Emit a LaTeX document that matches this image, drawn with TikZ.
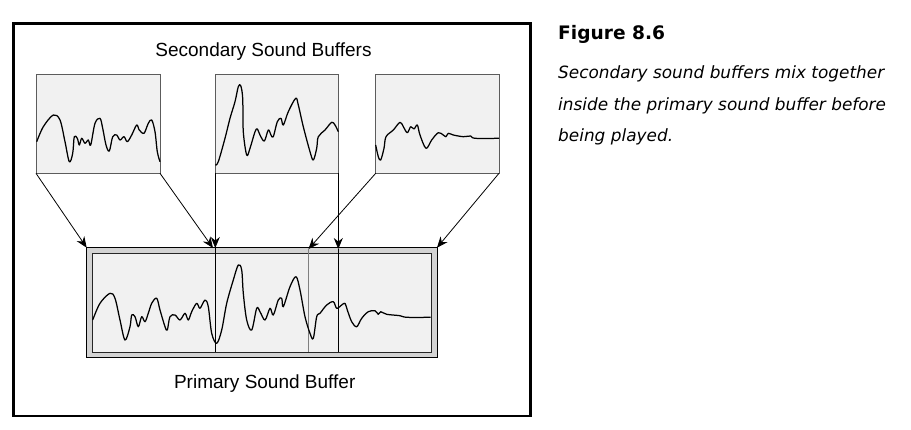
\documentclass[tikz,border=0pt]{standalone}
\usepackage{fontspec}
\setmainfont{Liberation Sans}
\newfontfamily\figfont[ItalicFont={DejaVu Sans Oblique},BoldFont={DejaVu Sans Bold}]{DejaVu Sans}
\usetikzlibrary{arrows.meta}

\definecolor{bufgray}{HTML}{F1F1F1}
\definecolor{rimgray}{HTML}{D3D3D3}
\definecolor{edgegray}{HTML}{5C5C5C}

\tikzset{
  buf/.style={draw=edgegray, fill=bufgray, line width=1pt, inner sep=0pt, outer sep=0pt, anchor=north west},
  wave/.style={line width=1.25pt, line join=round},
  feed/.style={line width=0.8pt, -{Stealth[length=11pt,width=9pt]}},
  bufname/.style={font=\fontsize{19}{22}\selectfont, anchor=base, inner sep=0pt},
}

\begin{document}
\begin{tikzpicture}[x=1pt, y=-1pt]
\useasboundingbox (0,0) rectangle (911,429);
% frame round the figure
\draw[line width=2.5pt] (13.5,23.5) rectangle (530.5,416);
\node[bufname] (sectitle) at (263.5,56.7) {Secondary Sound Buffers};
\node[bufname] (primtitle) at (264.7,388.3) {Primary Sound Buffer};

% secondary buffers
\node[buf, minimum width=124pt, minimum height=99pt] (sec1) at (36,74.3) {};
\node[buf, minimum width=123pt, minimum height=99pt] (sec2) at (215.3,74.3) {};
\node[buf, minimum width=123.3pt, minimum height=99pt] (sec3) at (375.7,74.3) {};

% primary buffer
\node[buf, draw=black, fill=rimgray, minimum width=350.3pt, minimum height=110pt] (prim) at (86.7,247.7) {};
\node[buf, draw=black!85, minimum width=339.4pt, minimum height=99pt] (mix) at (92.3,253) {};

\coordinate (t1) at (213,248);
\coordinate (t2) at (215.3,248);
\coordinate (t3) at (308.5,249);
\coordinate (t4) at (338.3,249);

% dividers in the primary buffer
\draw[line width=1pt] (t2) -- (t2 |- mix.south);
\draw[line width=1pt] (t4) -- (t4 |- mix.south);
\draw[line width=1.2pt, gray] (t3) -- (t3 |- mix.south);

% arrows
\draw[feed] (sec1.south west) -- (prim.north west);
\draw[feed] (sec1.south east) -- (t1);
\draw[feed] (sec2.south west) -- (t2);
\draw[feed] (sec2.south east) -- (t4);
\draw[feed] (sec3.south west) -- (t3);
\draw[feed] (sec3.south east) -- (prim.north east);

% waves
\draw[wave] plot[smooth, tension=0.55] coordinates {(36.7,141.7) (43.3,126.7) (53.3,115) (60,120) (65,141.7) (69.3,161.7) (72.7,153.3) (74.3,136.7) (77.3,138.3) (79.3,145) (81.7,138.3) (85,143.3) (88.3,140) (90.7,145) (95,123.3) (100,118.3) (102.7,128.3) (106,145) (109.3,151) (112.7,136.7) (116.7,135) (120,140) (124,136.7) (127.3,141.7) (131.7,135) (136.7,125) (139.3,130) (144,133.3) (148.3,123.3) (151.7,120) (155,131.7) (157.3,151.7) (160,161.7)};
\draw[wave] plot[smooth, tension=0.55] coordinates {(215.3,165) (218.3,161.7) (225,138.3) (230,118.3) (235,101.7) (238.3,86.7) (240.7,85.7) (242.7,98.3) (243.3,131.7) (246.7,155) (250,148.3) (255,131.7) (257.3,129) (260,135) (264.3,141) (268.3,130) (271,135) (273.3,136.7) (277.3,121.7) (281,118.3) (283.3,125) (288.3,111.7) (295.7,98.3) (298.3,105) (303.3,126.7) (310,151.7) (313.3,160) (316.7,148.3) (318.3,136.7) (325,130) (331.7,122.3) (335,125) (338.3,131.7)};
\draw[wave] plot[smooth, tension=0.55] coordinates {(375.7,145) (378.3,156.7) (380.7,160) (384,148.3) (386,136.7) (393.3,130) (400,122.3) (403.3,126.7) (407.3,132.7) (410.7,126.7) (414,129) (417.3,125) (420,135) (426,148.3) (431.7,140) (438.3,132.7) (443.3,135) (446,136.7) (448.3,133.3) (453.3,135) (463.3,136.7) (470.7,136) (475,138.3) (499,138.3)};
\draw[wave] plot[smooth, tension=0.55] coordinates {(92.7,320) (100,303.3) (110,293.3) (115,298.3) (120,320) (125,340) (130,326.7) (131.7,315) (135,316.7) (138.3,326.7) (141.7,316.7) (145,321.7) (148.3,313.3) (151.7,303.3) (156.7,298.3) (160,310) (165,326.7) (167.3,330) (170,316.7) (175,315) (180,320) (185,313.3) (188.3,320) (191.7,311.7) (196.7,303.3) (200,308.3) (205,300) (208.3,306.7) (211.7,333.3) (216.7,343.3) (221.7,330) (226.7,303.3) (233.3,280) (238.3,265) (241.7,270) (243.3,293.3) (246.7,320) (251.7,330) (256.7,308.3) (260,311.7) (265,320) (270,308.3) (273.3,315) (278.3,300) (281.7,298.3) (283.3,306.7) (290,286.7) (296,276.7) (300,290) (305,316.7) (310,333.3) (313.3,338.3) (316.7,316.7) (320,313.3) (326.7,305) (333.3,301.7) (336.7,308.3) (341.7,305) (345,303.3) (347.3,310) (351.7,321.7) (356.7,326.7) (361.7,318.3) (368.3,311.7) (375,310.7) (378.3,314.3) (380.7,311.7) (386.7,314.3) (400,315.7) (406.7,317.3) (430.7,317.3)};

% caption
\node[anchor=base west, inner sep=0pt, font=\figfont\bfseries\fontsize{18.6}{22}\selectfont] (fignum) at (558,39.3) {Figure 8.6};
\node[anchor=base west, align=left, inner sep=0pt, font=\figfont\itshape\fontsize{16.9}{31.7}\selectfont] (figcap) at (558,141.7) {Secondary sound buffers mix together\\inside the primary sound buffer before\\being played.};
\end{tikzpicture}
\end{document}
